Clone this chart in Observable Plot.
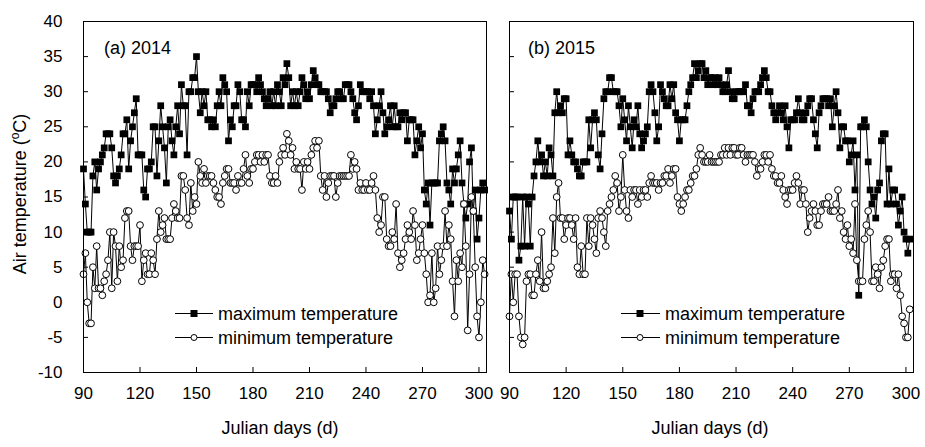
<!DOCTYPE html>
<html>
<head>
<meta charset="utf-8">
<script src="https://cdn.jsdelivr.net/npm/d3@7"></script>
<script src="https://cdn.jsdelivr.net/npm/@observablehq/plot@0.6"></script>
<style>
  body { margin: 0; background: #fff; }
  #wrap { position: relative; width: 925px; height: 447px; font-family: "Liberation Sans", Arial, sans-serif; overflow: hidden; }
  #wrap > svg { position: absolute; top: 0; }
</style>
</head>
<body>
<div id="wrap"></div>
<script>
// ---------------- data ----------------
const firstDay2014 = 90;
const firstDay2015 = 90;

const max2014 = [
  19, 14, 10, 10, 10, 18, 20, 16, 19, 20,
  21, 22, 24, 24, 24, 22, 18, 17, 18, 19,
  21, 24, 24, 26, 19, 23, 25, 27, 29, 21,
  21, 21, 16, 15, 19, 19, 20, 25, 25, 18,
  23, 28, 25, 22, 17, 25, 26, 23, 21, 25,
  28, 24, 31, 28, 28, 21, 30, 30, 32, 32,
  35, 30, 27, 30, 28, 30, 26, 26, 25, 26,
  25, 28, 30, 28, 32, 31, 30, 23, 26, 25,
  28, 28, 31, 30, 26, 26, 25, 30, 28, 31,
  31, 31, 30, 32, 31, 30, 29, 28, 29, 30,
  28, 30, 28, 31, 30, 28, 32, 31, 34, 32,
  28, 30, 28, 30, 28, 30, 32, 31, 29, 30,
  29, 31, 33, 32, 31, 31, 30, 30, 30, 30,
  29, 27, 28, 28, 29, 30, 30, 29, 29, 31,
  31, 31, 30, 29, 27, 26, 28, 31, 30, 30,
  30, 30, 29, 30, 28, 24, 26, 28, 30, 27,
  24, 25, 26, 28, 25, 28, 25, 25, 27, 26,
  27, 27, 23, 26, 26, 26, 21, 23, 25, 22,
  24, 16, 14, 17, 11, 17, 17, 17, 17, 23,
  24, 25, 23, 17, 16, 14, 19, 17, 19, 21,
  23, 17, 14, 12, 14, 20, 22, 13, 16, 9,
  12, 16, 17, 16
];

const min2014 = [
  4, 7, 0, -3, -3, 5, 2, 8, 2, 2,
  1, 3, 4, 6, 10, 2, 10, 8, 3, 8,
  5, 6, 12, 13, 13, 8, 6, 8, 8, 8,
  11, 3, 6, 7, 4, 4, 7, 6, 4, 9,
  13, 10, 11, 12, 9, 9, 9, 12, 14, 13,
  12, 12, 18, 18, 16, 12, 11, 17, 13, 15,
  14, 20, 18, 17, 19, 17, 18, 18, 18, 17,
  16, 15, 15, 14, 17, 18, 19, 19, 17, 17,
  17, 16, 18, 17, 17, 19, 21, 18, 17, 19,
  19, 20, 21, 21, 20, 21, 20, 21, 21, 18,
  17, 17, 18, 17, 20, 21, 22, 21, 24, 23,
  21, 22, 19, 20, 19, 19, 16, 20, 19, 20,
  19, 21, 22, 23, 22, 23, 18, 16, 18, 15,
  17, 18, 18, 18, 15, 17, 18, 18, 18, 18,
  18, 18, 21, 19, 20, 19, 16, 17, 16, 16,
  17, 16, 16, 17, 18, 16, 12, 10, 11, 15,
  15, 9, 8, 8, 10, 9, 14, 7, 5, 6,
  7, 9, 11, 10, 9, 13, 11, 6, 7, 9,
  11, 7, 4, 0, 1, 7, 0, 2, 8, 4,
  6, 8, 13, 8, 11, 9, 3, -2, 6, 3,
  7, 5, 14, 8, -4, 4, 15, 13, 5, -2,
  -5, 0, 6, 4
];

const max2015 = [
  13, 9, 15, 15, 15, 6, 8, 15, 8, 15,
  14, 8, 15, 18, 20, 23, 20, 21, 18, 20,
  18, 22, 21, 18, 27, 30, 27, 28, 27, 29,
  29, 21, 23, 21, 20, 20, 19, 18, 18, 20,
  20, 20, 26, 22, 26, 27, 26, 21, 19, 24,
  29, 30, 30, 32, 32, 30, 30, 30, 28, 25,
  29, 26, 23, 28, 25, 22, 26, 25, 28, 24,
  22, 23, 24, 25, 30, 31, 30, 27, 23, 25,
  31, 30, 29, 28, 28, 31, 29, 31, 27, 26,
  23, 26, 26, 26, 28, 30, 31, 32, 34, 32,
  33, 34, 34, 32, 33, 31, 32, 32, 31, 32,
  31, 32, 31, 30, 30, 31, 33, 30, 29, 29,
  30, 30, 30, 30, 30, 31, 28, 28, 27, 29,
  30, 30, 30, 31, 32, 33, 32, 30, 30, 28,
  27, 26, 27, 28, 27, 26, 28, 25, 22, 26,
  26, 26, 27, 29, 27, 26, 26, 27, 28, 29,
  29, 26, 24, 22, 27, 28, 29, 29, 29, 28,
  29, 25, 28, 30, 27, 22, 25, 25, 23, 23,
  20, 21, 23, 16, 21, 1, 25, 25, 26, 25,
  20, 16, 14, 15, 12, 16, 17, 23, 24, 24,
  14, 19, 14, 16, 16, 14, 11, 13, 15, 10,
  9, 7, 9
];

const min2015 = [
  -2, 4, 0, 4, 4, -2, -5, -6, -5, 3,
  4, 4, 1, 1, 4, 6, 3, 10, 2, 2,
  3, 4, 5, 12, 7, 15, 17, 12, 12, 9,
  11, 12, 12, 11, 9, 12, 5, 4, 8, 4,
  4, 12, 8, 12, 11, 9, 7, 12, 13, 12,
  10, 8, 13, 14, 15, 16, 18, 17, 13, 15,
  21, 16, 13, 12, 16, 15, 16, 16, 14, 16,
  15, 16, 16, 15, 17, 18, 17, 17, 17, 16,
  17, 17, 18, 18, 19, 17, 18, 19, 19, 15,
  14, 13, 14, 15, 16, 16, 17, 18, 18, 19,
  21, 22, 21, 20, 20, 20, 21, 20, 20, 20,
  20, 20, 21, 21, 22, 21, 22, 21, 22, 22,
  21, 21, 22, 22, 21, 20, 21, 21, 21, 21,
  20, 18, 19, 19, 20, 21, 21, 20, 21, 19,
  18, 18, 17, 17, 18, 16, 15, 14, 16, 16,
  16, 17, 18, 17, 14, 16, 16, 14, 10, 12,
  13, 14, 13, 11, 11, 13, 14, 14, 14, 15,
  13, 13, 13, 14, 16, 12, 13, 10, 9, 11,
  8, 9, 7, 14, 6, 3, 3, 3, 9, 11,
  13, 10, 3, 3, 5, 4, 2, 5, 6, 8,
  9, 9, 3, 4, 4, 2, 4, 1, -2, -3,
  -5, -5, -1
];

const xTicks = [90, 120, 150, 180, 210, 240, 270, 300];
const yTicks = [-10, -5, 0, 5, 10, 15, 20, 25, 30, 35, 40];
const seriesNames = ["maximum temperature", "minimum temperature"];
const panelLabels = ["(a) 2014", "(b) 2015"];
const xTitle = "Julian days (d)";
const yTitleParts = ["Air temperature (", "o", "C)"];

// ---------------- drawing ----------------
const FONT = "Liberation Sans, Arial, sans-serif";
const toRows = (first, vals) => vals.map((v, i) => ({day: first + i, t: v}));

function panel({maxVals, minVals, first, width, marginLeft, marginRight, yLabels}) {
  const mx = toRows(first, maxVals);
  const mn = toRows(first, minVals);
  return Plot.plot({
    width, height: 447,
    marginTop: 21, marginBottom: 75, marginLeft, marginRight,
    style: {fontFamily: FONT, fontSize: "17px", color: "#000", background: "transparent", overflow: "visible"},
    x: {domain: [90, 304]},
    y: {domain: [-10, 40]},
    marks: [
      Plot.axisX(xTicks, {tickSize: -5, tickPadding: 19, label: null, tickFormat: d => String(d)}),
      Plot.axisY(yTicks, {tickSize: -5, tickPadding: 26, label: null, tickFormat: yLabels ? (d => String(d)) : (() => "")}),
      Plot.line(mx, {x: "day", y: "t", stroke: "#000", strokeWidth: 1}),
      Plot.line(mn, {x: "day", y: "t", stroke: "#000", strokeWidth: 1}),
      Plot.dot(mx, {x: "day", y: "t", symbol: "square", r: 3.8, fill: "#000", stroke: "none"}),
      Plot.dot(mn, {x: "day", y: "t", r: 3.4, fill: "#fff", stroke: "#000", strokeWidth: 1}),
      Plot.frame({stroke: "#000", strokeWidth: 1})
    ]
  });
}

const wrap = document.getElementById("wrap");

const left = panel({maxVals: max2014, minVals: min2014, first: firstDay2014, width: 490, marginLeft: 83, marginRight: 4, yLabels: true});
left.style.left = "0px";
wrap.appendChild(left);

const right = panel({maxVals: max2015, minVals: min2015, first: firstDay2015, width: 438, marginLeft: 22, marginRight: 12, yLabels: false});
right.style.left = "487px";
wrap.appendChild(right);

// overlay: titles, panel labels, legends
const ns = "http://www.w3.org/2000/svg";
const ov = document.createElementNS(ns, "svg");
ov.setAttribute("width", 925); ov.setAttribute("height", 447);
ov.style.left = "0px";
ov.setAttribute("font-family", FONT);
wrap.appendChild(ov);

function el(tag, attrs, parent = ov) {
  const e = document.createElementNS(ns, tag);
  for (const k in attrs) e.setAttribute(k, attrs[k]);
  parent.appendChild(e);
  return e;
}
function txt(str, attrs) { const t = el("text", attrs); t.textContent = str; return t; }

// y title with superscript o
const yt = el("text", {transform: "translate(26,194) rotate(-90)", "text-anchor": "middle", "font-size": 18, fill: "#000"});
const s1 = el("tspan", {}, yt); s1.textContent = yTitleParts[0];
const s2 = el("tspan", {dy: -7, "font-size": 12}, yt); s2.textContent = yTitleParts[1];
const s3 = el("tspan", {dy: 7}, yt); s3.textContent = yTitleParts[2];

// x titles
txt(xTitle, {x: 280, y: 434, "text-anchor": "middle", "font-size": 18, fill: "#000"});
txt(xTitle, {x: 710, y: 434, "text-anchor": "middle", "font-size": 18, fill: "#000"});

// panel labels
txt(panelLabels[0], {x: 104, y: 54, "font-size": 18, fill: "#000"});
txt(panelLabels[1], {x: 528, y: 54, "font-size": 18, fill: "#000"});

// legends
function legend(x0, x1, xm, xt) {
  const rowsY = [313, 337];
  el("line", {x1: x0, x2: x1, y1: rowsY[0] + 0.5, y2: rowsY[0] + 0.5, stroke: "#000", "stroke-width": 1});
  el("rect", {x: xm - 3.5, y: rowsY[0] - 3, width: 7, height: 7, fill: "#000"});
  txt(seriesNames[0], {x: xt, y: rowsY[0] + 6.5, "font-size": 18, fill: "#000"});
  el("line", {x1: x0, x2: x1, y1: rowsY[1] + 0.5, y2: rowsY[1] + 0.5, stroke: "#000", "stroke-width": 1});
  el("circle", {cx: xm, cy: rowsY[1] + 0.5, r: 3, fill: "#fff", stroke: "#000", "stroke-width": 1});
  txt(seriesNames[1], {x: xt, y: rowsY[1] + 6.5, "font-size": 18, fill: "#000"});
}
legend(175, 213, 194, 218);
legend(621, 660, 640, 665);
</script>
</body>
</html>
